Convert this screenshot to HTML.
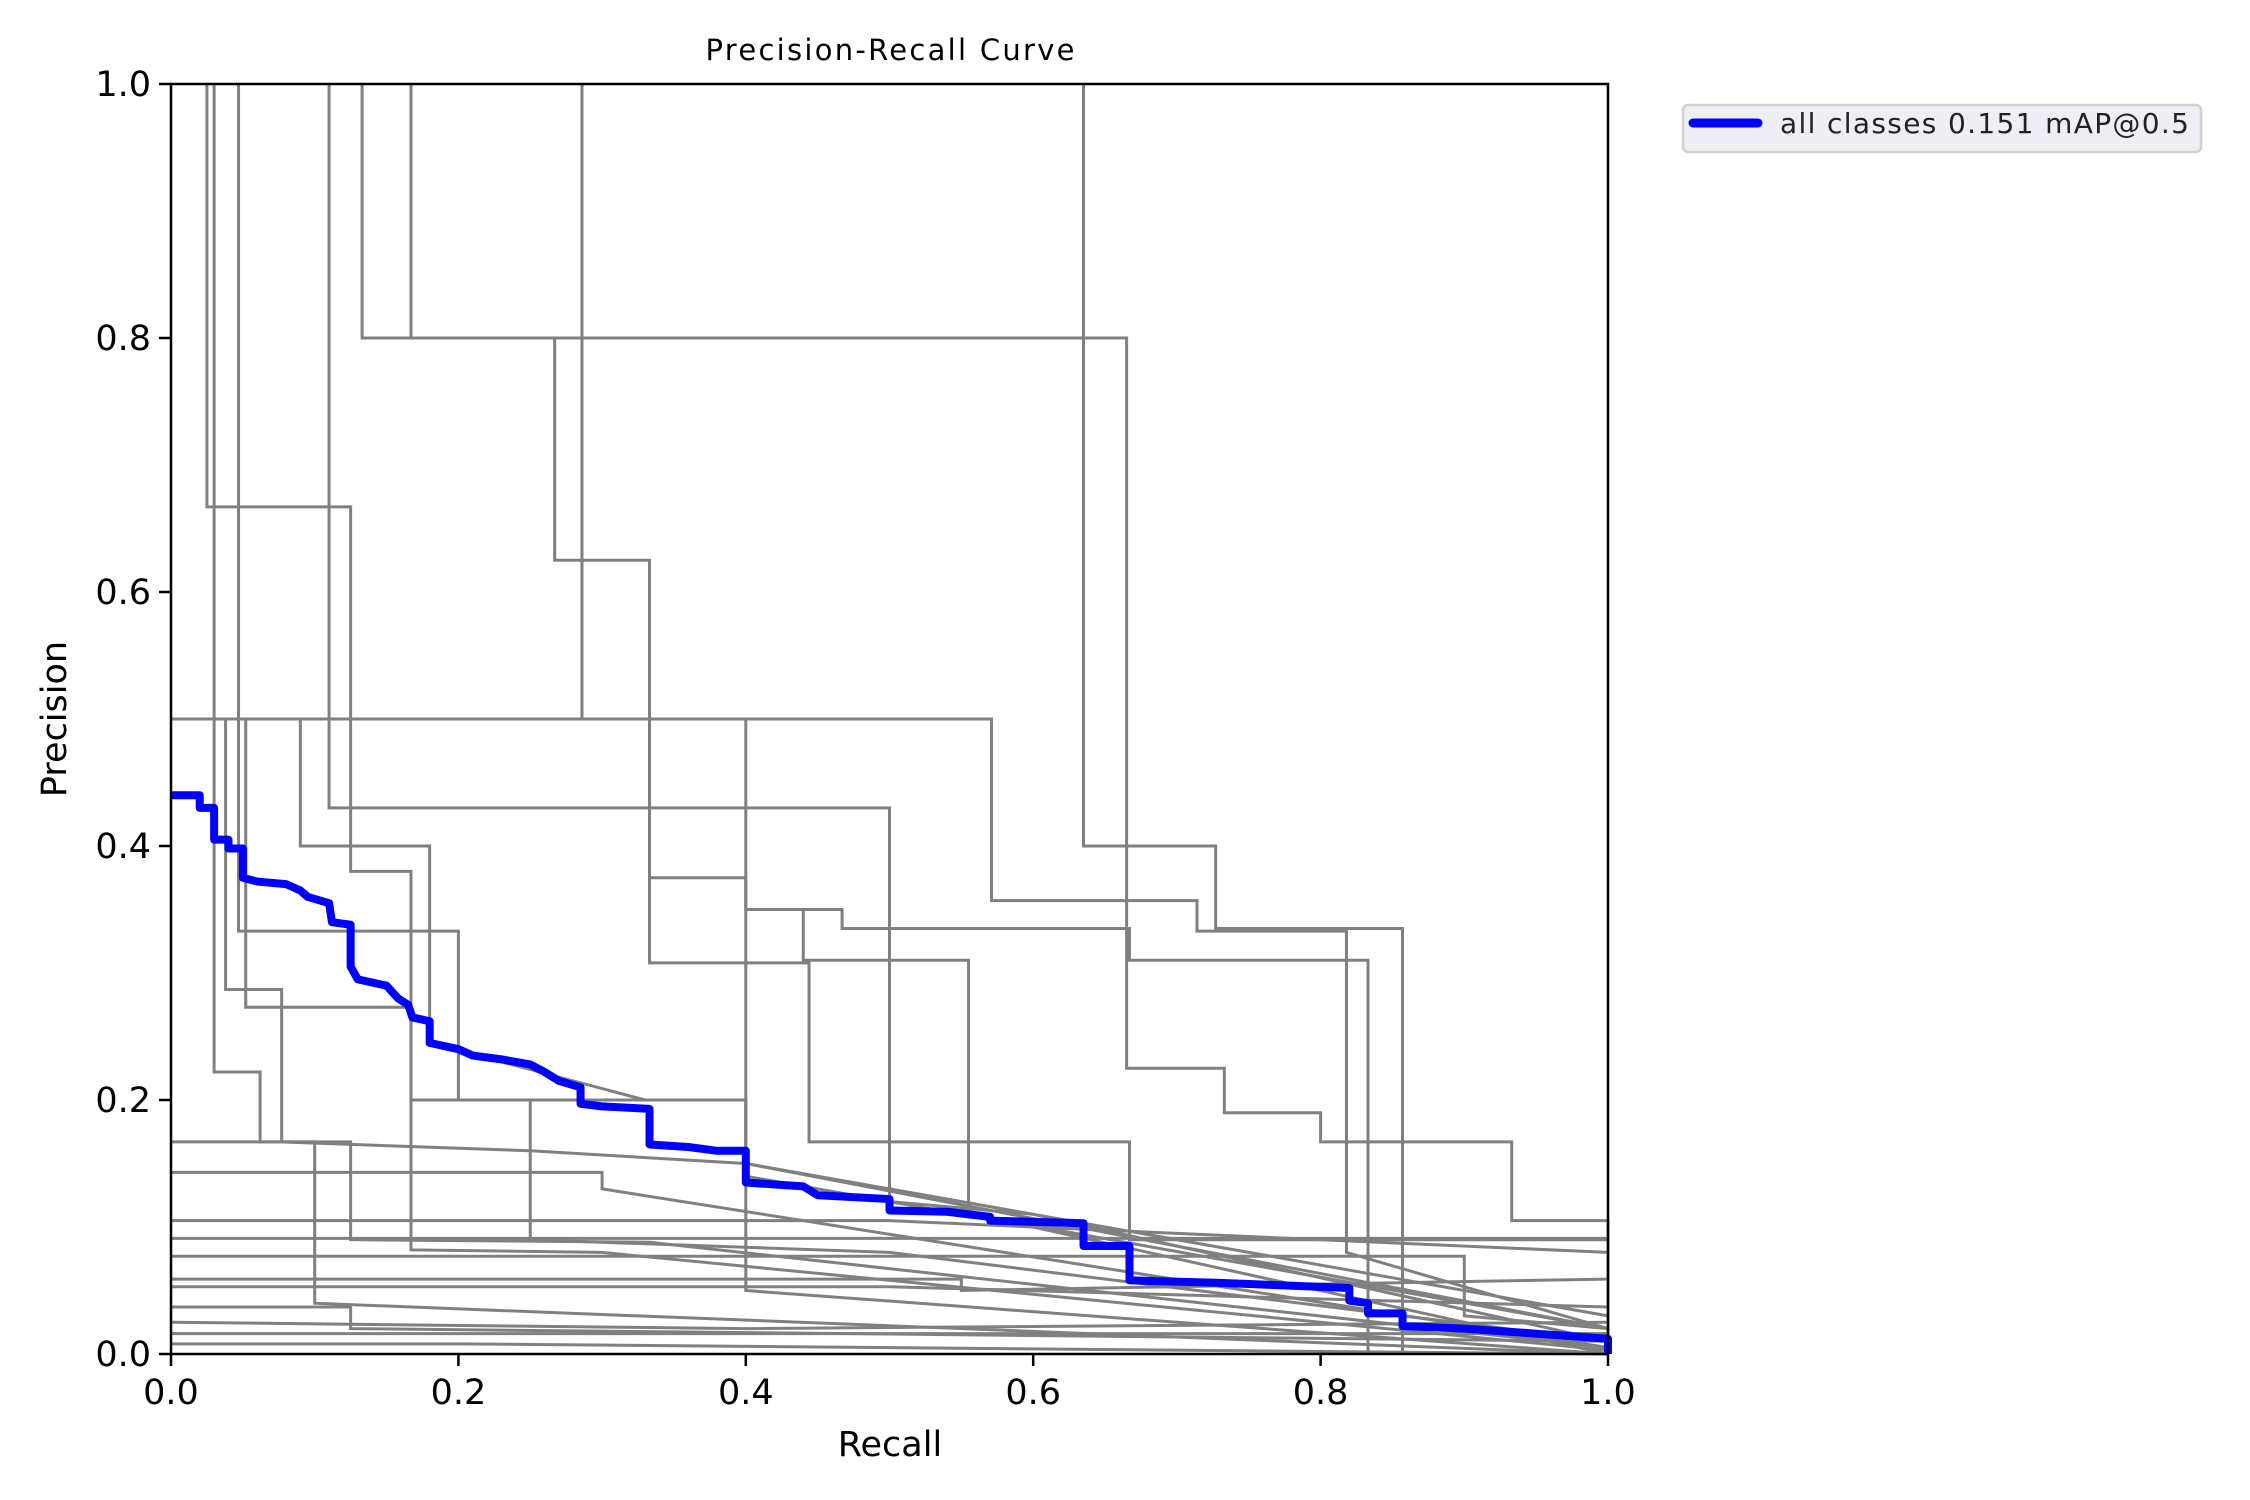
<!DOCTYPE html>
<html><head><meta charset="utf-8"><title>Precision-Recall Curve</title>
<style>html,body{margin:0;padding:0;background:#fff}svg{display:block}text{font-family:"DejaVu Sans","Liberation Sans",sans-serif}</style>
</head><body>
<svg id="chart" width="2250" height="1500" viewBox="0 0 2250 1500" xmlns="http://www.w3.org/2000/svg">
<rect width="2250" height="1500" fill="#fff"/>
<g id="classes"></g>
<g id="allg"></g>
<g id="axes"></g>
<text x="890" y="60" font-size="29" text-anchor="middle" textLength="369">Precision-Recall Curve</text>
<text x="890" y="1456" font-size="35" text-anchor="middle">Recall</text>
<text transform="translate(66,719) rotate(-90)" font-size="35" text-anchor="middle">Precision</text>
<g>
<rect x="1683" y="105" width="518" height="47" rx="5" fill="#eeeef4" stroke="#d0d0d0" stroke-width="2.5"/>
<line x1="1693" y1="123" x2="1758" y2="123" stroke="#0000ff" stroke-width="9" stroke-linecap="round"/>
<text x="1780" y="133" font-size="28" fill="#222" textLength="409">all classes 0.151 mAP@0.5</text>
</g>
</svg>
<script>
const xTicks=[0,0.2,0.4,0.6,0.8,1.0];
const yTicks=[0,0.2,0.4,0.6,0.8,1.0];
const tickLabels=["0.0","0.2","0.4","0.6","0.8","1.0"];
const allRecall=[0,0.02,0.02,0.03,0.03,0.04,0.04,0.05,0.05,0.06,0.08,0.09,0.095,0.11,0.112,0.125,0.125,0.13,0.15,0.158,0.165,0.168,0.18,0.18,0.2,0.21,0.23,0.25,0.26,0.27,0.285,0.285,0.3,0.333,0.333,0.36,0.38,0.4,0.4,0.44,0.45,0.5,0.5,0.54,0.57,0.57,0.635,0.635,0.667,0.667,0.73,0.82,0.82,0.833,0.833,0.857,0.857,0.9,0.95,1.0,1.0];
const allPrecision=[0.44,0.44,0.43,0.43,0.405,0.405,0.398,0.398,0.375,0.372,0.37,0.365,0.36,0.355,0.34,0.338,0.305,0.295,0.29,0.28,0.275,0.265,0.262,0.245,0.24,0.235,0.232,0.228,0.222,0.215,0.21,0.197,0.195,0.193,0.165,0.163,0.16,0.16,0.135,0.132,0.125,0.122,0.113,0.112,0.108,0.105,0.103,0.085,0.085,0.058,0.056,0.052,0.042,0.04,0.032,0.032,0.022,0.02,0.016,0.012,0];
const classCurves=[
[[0.133,1],[0.133,0.8],[0.665,0.8],[0.665,0.225],[0.733,0.225],[0.733,0.19],[0.8,0.19],[0.8,0.167],[0.933,0.167],[0.933,0.105],[1,0.105],[1,0]],
[[0.286,1],[0.286,0.5],[0.333,0.5],[0.333,0.375],[0.4,0.375],[0.4,0.35],[0.467,0.35],[0.467,0.335],[0.667,0.335],[0.667,0.31],[0.833,0.31],[0.833,0]],
[[0.267,0.8],[0.267,0.625],[0.333,0.625],[0.333,0.308],[0.444,0.308],[0.444,0.167],[0.5,0.167],[0.5,0.12],[0.6,0.11],[1,0.01]],
[[0.635,1],[0.635,0.4],[0.727,0.4],[0.727,0.335],[0.857,0.335],[0.857,0]],
[[0.167,1],[0.167,0.8]],
[[0.11,1],[0.11,0.43],[0.5,0.43],[0.5,0.167],[0.667,0.167],[0.667,0.09],[1,0.09]],
[[0,0.5],[0.571,0.5],[0.571,0.357],[0.714,0.357],[0.714,0.333],[0.818,0.333],[0.818,0.08],[1,0.02]],
[[0.025,1],[0.025,0.667],[0.125,0.667],[0.125,0.38],[0.167,0.38],[0.167,0.2],[0.25,0.2],[0.25,0.09],[0.5,0.08],[1,0.01]],
[[0.03,1],[0.03,0.222],[0.062,0.222],[0.062,0.167],[0.125,0.167],[0.125,0.09],[0.333,0.088],[1,0.005]],
[[0.047,1],[0.047,0.333],[0.2,0.333],[0.2,0.2],[0.4,0.2],[0.4,0.15],[1,0.02]],
[[0.038,0.5],[0.038,0.287],[0.077,0.287],[0.077,0.167],[0.25,0.16],[0.4,0.15],[1,0.03]],
[[0.09,0.5],[0.09,0.4],[0.18,0.4],[0.18,0.245],[0.33,0.2],[0.4,0.2],[0.4,0.05],[1,0]],
[[0.4,0.5],[0.4,0.14],[0.6,0.1],[1,0]],
[[0.052,0.5],[0.052,0.273],[0.167,0.273],[0.167,0.082],[0.3,0.08],[1,0.003]],
[[0.4,0.35],[0.44,0.35],[0.44,0.31],[0.555,0.31],[0.555,0.11],[1,0.02]],
[[0,0.167],[0.1,0.167],[0.1,0.04],[1,0]],
[[0,0.143],[0.3,0.143],[0.3,0.13],[1,0.005]],
[[0,0.105],[0.5,0.105],[0.6,0.1],[1,0.08]],
[[0,0.091],[1,0.091]],
[[0,0.077],[0.9,0.077],[0.9,0.03],[1,0.02]],
[[0,0.059],[0.55,0.059],[0.55,0.05],[1,0.059]],
[[0,0.053],[0.5,0.053],[1,0.037]],
[[0,0.037],[0.125,0.037],[0.125,0.02],[1,0.01]],
[[0,0.025],[0.4,0.02],[1,0.025]],
[[0,0.016],[1,0.016]],
[[0,0.008],[0.2,0.008],[1,0]]
];
const L=171,R=1608,T=84,B=1354;
const sx=v=>L+v*(R-L), sy=v=>B-v*(B-T);
const NS="http://www.w3.org/2000/svg";
function mk(t,a){const e=document.createElementNS(NS,t);for(const k in a)e.setAttribute(k,a[k]);return e;}
const cg=document.getElementById('classes');
classCurves.forEach((c,i)=>{
  const p=mk('polyline',{points:c.map(q=>sx(q[0])+','+sy(q[1])).join(' '),fill:'none',stroke:'#808080','stroke-width':3});
  
  
  cg.appendChild(p);
});
const ag=document.getElementById('allg');
const ap=mk('polyline',{points:allRecall.map((r,i)=>sx(r)+','+sy(allPrecision[i])).join(' '),fill:'none',stroke:'#0000ff','stroke-width':8,'stroke-linejoin':'round'});


ag.appendChild(ap);
const ax=document.getElementById('axes');
const fr=mk('rect',{x:L,y:T,width:R-L,height:B-T,fill:'none',stroke:'#000','stroke-width':2.5});


ax.appendChild(fr);
xTicks.forEach((v,i)=>{
  const l=mk('line',{x1:sx(v),y1:B,x2:sx(v),y2:B+12,stroke:'#000','stroke-width':2.5});
  
  
  ax.appendChild(l);
  const t=mk('text',{x:sx(v),y:B+50,'font-size':35,'text-anchor':'middle'});
  t.textContent=tickLabels[i];
  
  
  ax.appendChild(t);
});
yTicks.forEach((v,i)=>{
  const l=mk('line',{x1:L-12,y1:sy(v),x2:L,y2:sy(v),stroke:'#000','stroke-width':2.5});
  
  
  ax.appendChild(l);
  const t=mk('text',{x:L-20,y:sy(v)+12,'font-size':35,'text-anchor':'end'});
  t.textContent=tickLabels[i];
  
  
  ax.appendChild(t);
});
</script>
</body></html>
